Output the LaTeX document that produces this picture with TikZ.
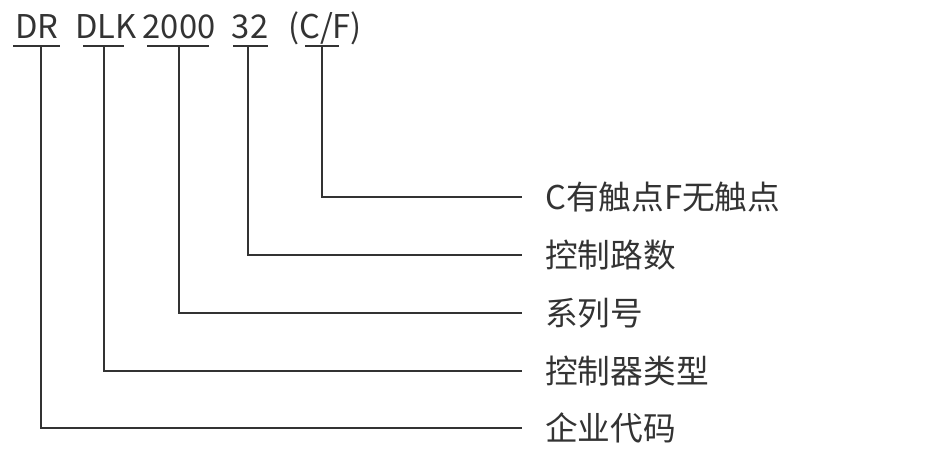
\documentclass[tikz,border=0pt]{standalone}
\usepackage{fontspec}
\setmainfont{Noto Sans CJK SC}
\definecolor{ink}{HTML}{333333}
\begin{document}
\begin{tikzpicture}[x=1pt,y=-1pt,
  code/.style={anchor=base,inner sep=0pt,text=ink,font=\fontsize{32.7}{36}\selectfont},
  lab/.style={anchor=west,inner sep=0pt,text=ink,font=\fontsize{32.7}{36}\selectfont},
  ln/.style={draw=ink,line width=1.3pt}]
\useasboundingbox (0,0) rectangle (949,464);
% top codes
\node[code] (dr) at (37,38) {DR};
\node[code] (dlk) at (106,38) {DLK};
\node[code] (n2000) at (179,38) {2000};
\node[code] (n32) at (250,38) {32};
\node[code] (cf) at (325,38) {(C/F)};
% underline ends
\coordinate (u1a) at (13,46); \coordinate (u1b) at (60,46); \coordinate (t1) at (41,46);
\coordinate (u2a) at (83,46); \coordinate (u2b) at (124,46); \coordinate (t2) at (104,46);
\coordinate (u3a) at (147,46); \coordinate (u3b) at (209,46); \coordinate (t3) at (179,46);
\coordinate (u4a) at (233,46); \coordinate (u4b) at (268,46); \coordinate (t4) at (248,46);
\coordinate (u5a) at (305,46); \coordinate (u5b) at (339,46); \coordinate (t5) at (322,46);
\foreach \i in {1,...,5} {\draw[ln] (u\i a) -- (u\i b);}
% labels
\node[lab] (l5) at (545,197) {C有触点F无触点};
\node[lab] (l4) at (545,255) {控制路数};
\node[lab] (l3) at (545,313) {系列号};
\node[lab] (l2) at (545,371) {控制器类型};
\node[lab] (l1) at (545,428) {企业代码};
% connectors
\foreach \i in {1,...,5} {\draw[ln] (t\i) |- ([xshift=-23pt]l\i.west);}
\end{tikzpicture}
\end{document}
